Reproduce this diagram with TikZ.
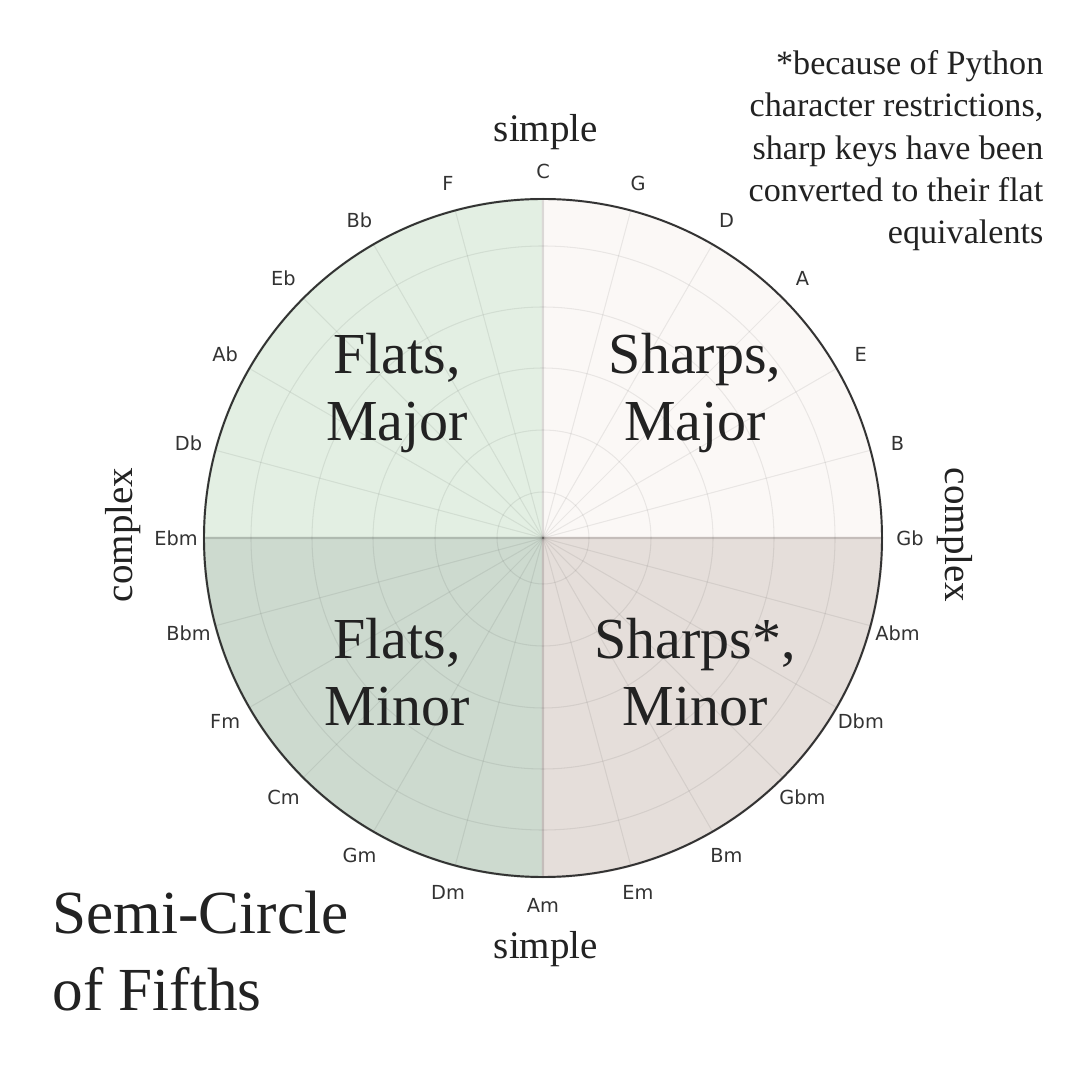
\documentclass[tikz,border=0pt]{standalone}
\usepackage{fontspec}
\setmainfont{Liberation Serif}
\newfontfamily\keyfont{DejaVu Sans}
\usepackage{tikz}
\usetikzlibrary{calc}
\definecolor{flatmaj}{HTML}{E3EFE3}
\definecolor{sharpmaj}{HTML}{FBF8F6}
\definecolor{flatmin}{HTML}{CDDACF}
\definecolor{sharpmin}{HTML}{E5DEDA}
\definecolor{keygray}{HTML}{333333}
\definecolor{textdark}{HTML}{222222}

\begin{document}
\begin{tikzpicture}[x=0.01cm,y=0.01cm,
  keylabel/.style={font=\keyfont\fontsize{5.5}{6.6}\selectfont,text=keygray,inner sep=0pt},
  quadtext/.style={font=\fontsize{16.5}{19.1}\selectfont,align=center,text=textdark,inner sep=0pt},
  sidetext/.style={font=\fontsize{11.1}{13}\selectfont,text=textdark,inner sep=0pt},
  gridline/.style={black,opacity=0.07,line width=0.3pt}]
\useasboundingbox (-543,-542) rectangle (537,538);
\fill[white] (-543,-542) rectangle (537,538);
\filldraw[fill=flatmaj,draw=flatmaj!92!black,line width=0.7pt] (0,0) -- (90:339) arc (90:180:339) -- cycle;
\filldraw[fill=sharpmaj,draw=sharpmaj!94!black,line width=0.7pt] (0,0) -- (0:339) arc (0:90:339) -- cycle;
\filldraw[fill=flatmin,draw=flatmin!92!black,line width=0.7pt] (0,0) -- (180:339) arc (180:270:339) -- cycle;
\filldraw[fill=sharpmin,draw=sharpmin!92!black,line width=0.7pt] (0,0) -- (270:339) arc (270:360:339) -- cycle;
\foreach \r in {46,108,170,231,292} \draw[gridline] (0,0) circle (\r);
\foreach \a in {0,15,...,345} \draw[gridline] (0,0) -- (\a:339);
\draw[keygray,line width=0.55pt] (0,0) circle (339);
\foreach \k [count=\i from 0] in {C,G,D,A,E,B,Gb,Abm,Dbm,Gbm,Bm,Em,Am,Dm,Gm,Cm,Fm,Bbm,Ebm,Db,Ab,Eb,Bb,F}
  \node[keylabel] (key\i) at ({90-15*\i}:367) {\k};
\node[quadtext] (flatsmajor) at (-146,145) {Flats,\\Major};
\node[quadtext] (sharpsmajor) at (152,145) {Sharps,\\Major};
\node[quadtext] (flatsminor) at (-146,-134) {Flats,\\Minor};
\node[quadtext] (sharpsminor) at (152,-134) {Sharps*,\\Minor};
\node[sidetext] (simpletop) at (3,406) {simple};
\node[sidetext] (simplebottom) at (3,-411) {simple};
\node[sidetext,rotate=90] (complexleft) at (-420,3) {complex};
\node[sidetext,rotate=-90] (complexright) at (412,3) {complex};
\node[font=\fontsize{9.7}{12}\selectfont,align=right,text=textdark,inner sep=0pt,anchor=north east] (note) at (501,488)
  {*because of Python\\character restrictions,\\sharp keys have been\\converted to their flat\\equivalents};
\node[font=\fontsize{17.4}{21.9}\selectfont,align=left,text=textdark,inner sep=0pt,anchor=north west] (title) at (-491,-352)
  {Semi-Circle\\of Fifths};
\end{tikzpicture}
\end{document}
